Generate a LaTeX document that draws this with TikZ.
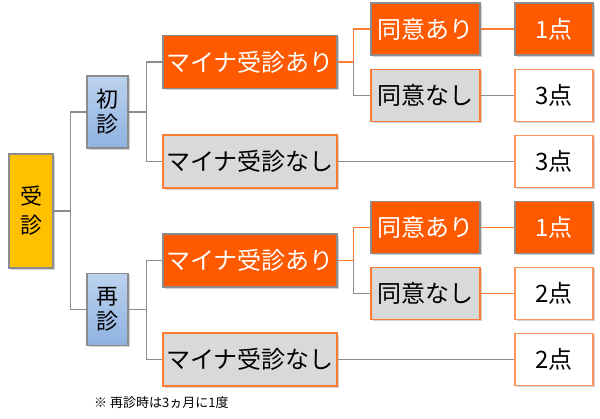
\documentclass[tikz,border=0pt]{standalone}
\usepackage{fontspec}
\setmainfont{Noto Sans CJK JP}
\usetikzlibrary{shadows}
\definecolor{kOrange}{HTML}{FF5A00}
\definecolor{kOrangeLine}{HTML}{FF7A33}
\definecolor{kGray}{HTML}{D9D9D9}
\definecolor{kLine}{HTML}{8C8C8C}
\definecolor{kYellow}{HTML}{FFC000}
\definecolor{kBlueTop}{HTML}{BCD2EF}
\definecolor{kBlueBot}{HTML}{8EB2E0}

\begin{document}
\begin{tikzpicture}[x=1pt,y=-1pt,
  box/.style={rectangle,inner sep=0pt,line width=1.2pt,
    drop shadow={shadow xshift=1.5pt,shadow yshift=-1.5pt,opacity=0.35}},
  rootbox/.style={box,draw=kLine,fill=kYellow,minimum width=44pt,minimum height=114pt,
    align=center,font=\fontsize{22}{29}\selectfont},
  visitbox/.style={box,draw=kLine,top color=kBlueTop,bottom color=kBlueBot,
    minimum width=41pt,minimum height=72pt,align=center,font=\fontsize{22}{25}\selectfont},
  hotbox/.style={box,draw=kLine,fill=kOrange,text=white,font=\fontsize{24}{26}\selectfont},
  offbox/.style={box,draw=kOrangeLine,fill=kGray,font=\fontsize{24}{26}\selectfont},
  ptbox/.style={box,draw=kOrangeLine!80,fill=white,minimum width=78pt,minimum height=52pt,
    font=\fontsize{24}{26}\selectfont},
  wide/.style={minimum width=174pt,minimum height=53pt},
  narrow/.style={minimum width=109pt,minimum height=52pt},
  gl/.style={draw=kLine,line width=1.5pt},
  ol/.style={draw=kOrangeLine,line width=1.2pt}]
\useasboundingbox (0,0) rectangle (600,418);

% root and first level
\node[rootbox] (jushin) at (31,211) {受\\診};
\node[visitbox] (shoshin) at (107.5,112) {初\\診};
\node[visitbox] (saishin) at (107.5,309.5) {再\\診};

% second level
\node[hotbox,wide] (ma1) at (250,62) {マイナ受診あり};
\node[offbox,wide] (mn1) at (250,161.5) {マイナ受診なし};
\node[hotbox,wide] (ma2) at (250,260.5) {マイナ受診あり};
\node[offbox,wide] (mn2) at (250,359.5) {マイナ受診なし};

% consent
\node[hotbox,narrow] (da1) at (425.5,29) {同意あり};
\node[offbox,narrow] (dn1) at (425.5,95.5) {同意なし};
\node[hotbox,narrow] (da2) at (425.5,227.5) {同意あり};
\node[offbox,narrow] (dn2) at (425.5,293.5) {同意なし};

% points
\node[ptbox,fill=kOrange,draw=kLine,text=white] (p11) at (554,29) {1点};
\node[ptbox] (p12) at (554,95.5) {3点};
\node[ptbox] (p13) at (554,161.5) {3点};
\node[ptbox,fill=kOrange,draw=kLine,text=white] (p21) at (554,227.5) {1点};
\node[ptbox] (p22) at (554,293.5) {2点};
\node[ptbox] (p23) at (554,359.5) {2点};

\node[font=\fontsize{13}{15}\selectfont,anchor=west,inner sep=0pt] (note) at (94,403) {※ 再診時は3ヵ月に1度};

% connectors
\draw[gl] (jushin.east) -- ++(17,0) |- (shoshin.west);
\draw[gl] (jushin.east) -- ++(17,0) |- (saishin.west);
\draw[gl] (shoshin.east) -- ++(18,0) |- (ma1.west);
\draw[gl] (shoshin.east) -- ++(18,0) |- (mn1.west);
\draw[gl] (saishin.east) -- ++(18,0) |- (ma2.west);
\draw[gl] (saishin.east) -- ++(18,0) |- (mn2.west);
\draw[ol] (ma1.east) -- ++(16,0) |- (da1.west);
\draw[gl] (ma1.east) ++(16,0) |- (dn1.west);
\draw[ol] (ma2.east) -- ++(16,0) |- (da2.west);
\draw[gl] (ma2.east) ++(16,0) |- (dn2.west);
\draw[ol] (da1) -- (p11);
\draw[gl] (dn1) -- (p12);
\draw[gl] (mn1) -- (p13);
\draw[ol] (da2) -- (p21);
\draw[ol] (dn2) -- (p22);
\draw[gl] (mn2) -- (p23);
\end{tikzpicture}
\end{document}
